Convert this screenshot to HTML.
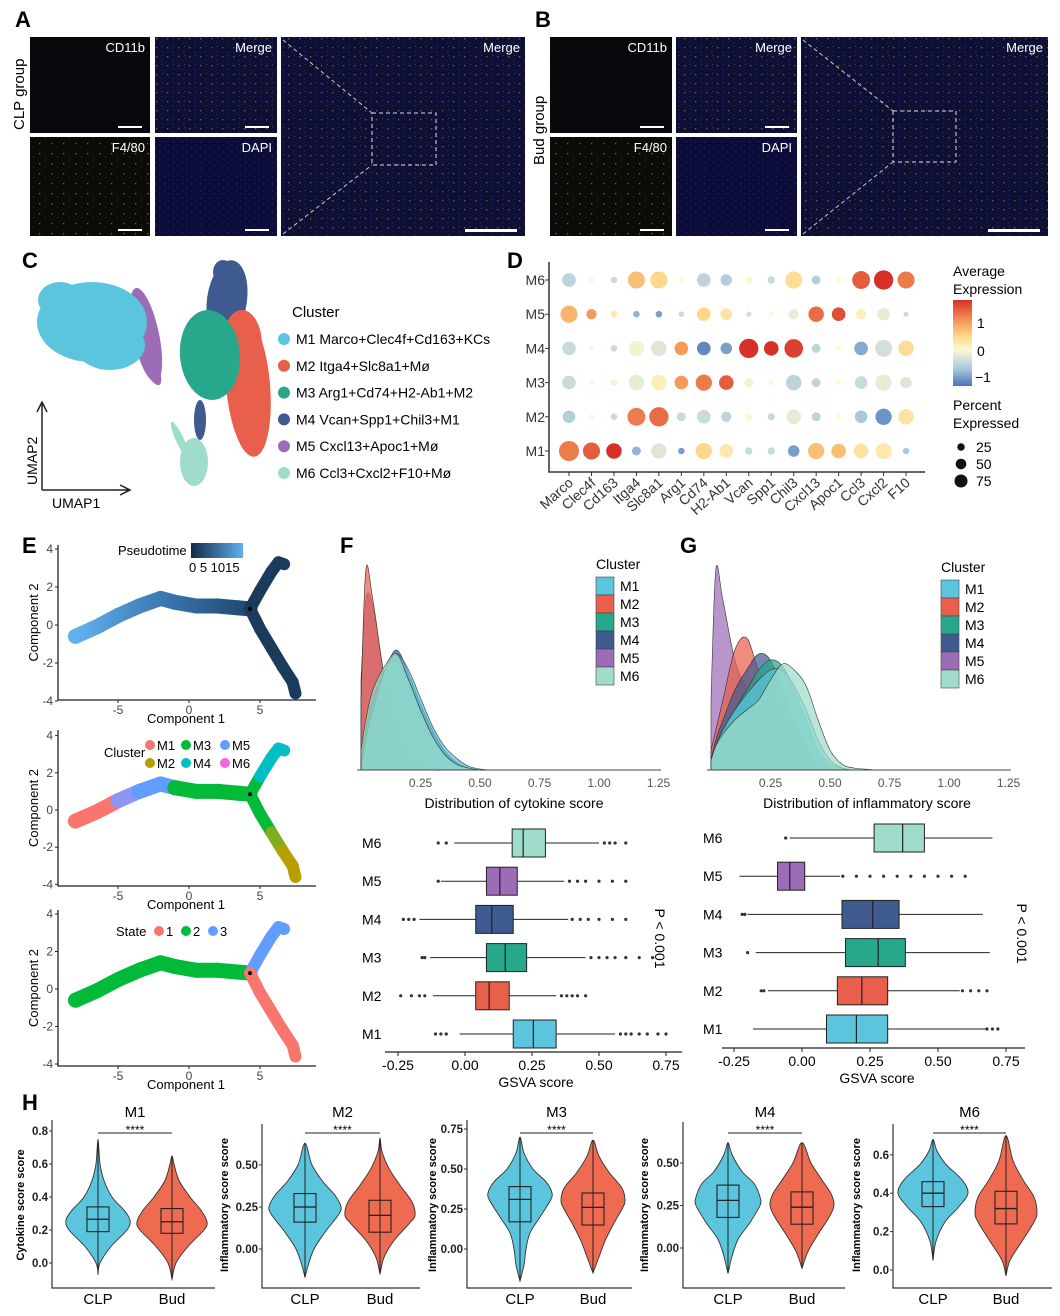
<!DOCTYPE html>
<html><head><meta charset="utf-8">
<style>
html,body{margin:0;padding:0;background:#fff;}
svg{display:block;font-family:"Liberation Sans",Arial,sans-serif;}
</style></head>
<body>
<svg id="fig" width="1060" height="1316" viewBox="0 0 1060 1316" xmlns="http://www.w3.org/2000/svg">
<defs>
<pattern id="pDapi" width="9" height="7" patternUnits="userSpaceOnUse"><rect width="9" height="7" fill="#0b0d38"/><rect x="2" y="1" width="1.5" height="1.5" fill="#182266"/><rect x="6" y="4" width="1.5" height="1.5" fill="#141c5c"/></pattern>
<pattern id="pMerge" width="11" height="9" patternUnits="userSpaceOnUse"><rect width="11" height="9" fill="#0d1034"/><rect x="2" y="2" width="1.3" height="1.3" fill="#6d6a34"/><rect x="7" y="6" width="1.3" height="1.3" fill="#1a2370"/><rect x="8" y="1" width="1" height="1" fill="#45452a"/></pattern>
<pattern id="pYel" width="12" height="10" patternUnits="userSpaceOnUse"><rect width="12" height="10" fill="#0b0b08"/><rect x="3" y="3" width="1.3" height="1.3" fill="#6d6a2c"/><rect x="9" y="7" width="1" height="1" fill="#3a3a1e"/></pattern>
<pattern id="pRed" width="14" height="12" patternUnits="userSpaceOnUse"><rect width="14" height="12" fill="#08080c"/><rect x="5" y="5" width="1" height="1" fill="#301010"/></pattern>
<linearGradient id="gPseudo" gradientUnits="userSpaceOnUse" x1="77" y1="0" x2="250" y2="0"><stop offset="0" stop-color="#62b0ec"/><stop offset="0.5" stop-color="#3a78b0"/><stop offset="1" stop-color="#1f4770"/></linearGradient>
<linearGradient id="gPseudoLeg" x1="0" y1="0" x2="1" y2="0"><stop offset="0" stop-color="#132b48"/><stop offset="1" stop-color="#5fb0ee"/></linearGradient>
<linearGradient id="gExpr" x1="0" y1="0" x2="0" y2="1"><stop offset="0" stop-color="#d73027"/><stop offset="0.25" stop-color="#f59a5a"/><stop offset="0.42" stop-color="#fdd88a"/><stop offset="0.58" stop-color="#fdf8d0"/><stop offset="0.8" stop-color="#a9c8e0"/><stop offset="1" stop-color="#4a74b4"/></linearGradient>
</defs>
</svg>
<script>
// ===== data arrays =====
const clusterNames=['M1','M2','M3','M4','M5','M6'];
const clusterColors=['#5bc5dd','#e8604c','#27a78c','#3f5a8e','#9d6cb6','#9fdccb'];
const geneNames=['Marco','Clec4f','Cd163','Itga4','Slc8a1','Arg1','Cd74','H2-Ab1','Vcan','Spp1','Chil3','Cxcl13','Apoc1','Ccl3','Cxcl2','F10'];
const exprM1=[1.3,1.5,1.8,-1,-0.3,-1.2,0.6,0.3,-0.5,-0.5,-1.2,0.8,0.8,0.4,0.3,-0.8];
const exprM2=[-0.7,0,-0.5,1.3,1.4,-0.5,-0.5,-0.6,0,-0.5,-0.2,-0.6,0,-0.8,-1.3,0.4];
const exprM3=[-0.5,0,-0.1,-0.2,0.2,1.1,1.3,1.5,-0.1,0,-0.6,-0.6,0,-0.5,-0.2,-0.3];
const exprM4=[-0.5,0,-0.5,-0.1,-0.3,1.1,-1.4,-1.2,1.9,1.8,1.7,-0.6,0,-1.1,-0.4,0.5];
const exprM5=[0.9,1.1,0.3,-1,-1.2,-0.5,0.6,0.4,-0.4,0,-0.2,1.4,1.6,0.2,-0.2,-0.5];
const exprM6=[-0.6,0,-0.5,0.8,0.6,0,-0.6,-0.7,0,-0.5,0.5,-0.7,0,1.5,1.8,1.3];
const pctM1=[75,55,45,15,45,8,50,35,10,10,25,50,40,40,50,8];
const pctM2=[30,5,8,60,70,15,35,20,10,10,40,15,5,30,50,45];
const pctM3=[35,5,8,45,45,35,50,40,15,5,45,15,5,30,50,25];
const pctM4=[35,5,8,45,45,35,35,25,70,40,65,15,5,35,55,45];
const pctM5=[55,20,8,8,8,6,35,25,5,3,20,45,35,20,30,5];
const pctM6=[35,5,8,55,55,5,35,25,10,10,55,15,5,60,70,55];

const trunkX=[-8,-6.5,-5,-3.5,-2,-1,0.5,2,3.5,4.3];
const trunkY=[-0.6,-0.1,0.5,1.0,1.4,1.2,1.0,1.0,0.9,0.85];
const upX=[4.3,5,5.8,6.3,6.7];
const upY=[0.85,1.8,2.8,3.3,3.2];
const lowX=[4.3,5,5.8,6.6,7.3,7.5];
const lowY=[0.85,-0.2,-1.2,-2.2,-3,-3.6];
const trunkCluster=['#f8766d','#f8766d','#8d96f2','#619cff','#619cff','#00ba38','#00ba38','#00ba38','#00ba38'];
const upCluster=['#00ba38','#00bfc4','#00bfc4','#00bfc4'];
const lowCluster=['#00ba38','#00ba38','#7fae1a','#b79f00','#b79f00'];
const xTicksE=[-5,0,5];
const yTicksE=[-4,-2,0,2,4];

const densXF=[0,0.02,0.05,0.1,0.15,0.2,0.25,0.3,0.35,0.4,0.45,0.5,0.55,0.6];
const densF_M1=[0.0,0.15,0.3,0.5,0.58,0.5,0.36,0.22,0.12,0.06,0.02,0.005,0,0];
const densF_M2=[0.35,1.0,0.85,0.45,0.2,0.08,0.03,0.01,0,0,0,0,0,0];
const densF_M3=[0.05,0.2,0.35,0.5,0.55,0.42,0.28,0.15,0.07,0.03,0.01,0,0,0];
const densF_M4=[0.05,0.2,0.35,0.5,0.6,0.48,0.33,0.2,0.1,0.04,0.01,0,0,0];
const densF_M5=[0.45,0.85,0.82,0.45,0.2,0.07,0.02,0,0,0,0,0,0,0];
const densF_M6=[0.1,0.25,0.4,0.52,0.58,0.45,0.3,0.17,0.08,0.03,0.01,0,0,0];
const densXG=[0,0.02,0.05,0.1,0.15,0.2,0.25,0.3,0.35,0.4,0.45,0.5,0.55,0.6,0.7];
const densG_M1=[0.05,0.12,0.2,0.3,0.38,0.45,0.5,0.5,0.42,0.3,0.15,0.05,0.01,0,0];
const densG_M2=[0.1,0.2,0.35,0.6,0.66,0.5,0.42,0.3,0.2,0.1,0.04,0.01,0,0,0];
const densG_M3=[0.05,0.12,0.2,0.3,0.4,0.5,0.55,0.52,0.4,0.25,0.1,0.03,0.01,0,0];
const densG_M4=[0.05,0.15,0.25,0.4,0.5,0.58,0.55,0.4,0.25,0.12,0.05,0.01,0,0,0];
const densG_M5=[0.35,1.0,0.85,0.55,0.4,0.25,0.14,0.07,0.03,0.01,0,0,0,0,0];
const densG_M6=[0.05,0.12,0.18,0.25,0.3,0.35,0.45,0.53,0.5,0.42,0.25,0.1,0.03,0.01,0];
const densTicks=[0.25,0.5,0.75,1.0,1.25];
const densTickLabels=['0.25','0.50','0.75','1.00','1.25'];

const boxF=[[-0.02,0.18,0.255,0.34,0.56],[-0.12,0.04,0.09,0.165,0.34],[-0.13,0.08,0.15,0.23,0.45],[-0.17,0.04,0.10,0.18,0.385],[-0.09,0.08,0.13,0.195,0.37],[-0.04,0.176,0.217,0.30,0.5]];
const outF=[[-0.11,-0.09,-0.07,0.58,0.6,0.62,0.65,0.68,0.72,0.75],[-0.24,-0.2,-0.17,-0.15,0.36,0.38,0.4,0.42,0.45],[-0.16,-0.15,0.47,0.5,0.53,0.56,0.6,0.65,0.7],[-0.23,-0.21,-0.19,0.4,0.43,0.46,0.5,0.55,0.6],[-0.1,0.39,0.42,0.45,0.5,0.55,0.6],[-0.1,-0.07,0.52,0.54,0.56,0.6]];
const boxG=[[-0.18,0.09,0.2,0.315,0.675],[-0.125,0.13,0.22,0.315,0.58],[-0.17,0.16,0.28,0.38,0.69],[-0.2,0.147,0.26,0.357,0.665],[-0.23,-0.09,-0.045,0.01,0.14],[-0.045,0.265,0.37,0.45,0.70]];
const outG=[[0.68,0.7,0.72],[-0.15,-0.14,0.59,0.62,0.65,0.68],[-0.2],[-0.22,-0.21],[0.15,0.2,0.25,0.3,0.35,0.4,0.45,0.5,0.55,0.6],[-0.06]];
const gsvaTicks=[-0.25,0,0.25,0.5,0.75];
const gsvaTickLabels=['-0.25','0.00','0.25','0.50','0.75'];

const violinCLP=[
 [[-0.07,0],[0,2],[0.1,13],[0.2,29],[0.26,32],[0.32,26],[0.4,14],[0.5,6],[0.6,2],[0.75,0]],
 [[-0.17,0],[-0.1,3],[0,9],[0.1,20],[0.2,33],[0.25,36],[0.32,30],[0.4,18],[0.5,7],[0.63,0]],
 [[-0.2,0],[-0.1,4],[0,6],[0.1,10],[0.2,20],[0.3,30],[0.35,32],[0.42,26],[0.5,13],[0.6,4],[0.7,0]],
 [[-0.15,0],[-0.05,4],[0.05,10],[0.15,22],[0.25,32],[0.3,32],[0.38,26],[0.45,14],[0.55,4],[0.62,0]],
 [[0.05,0],[0.15,3],[0.25,12],[0.33,26],[0.4,35],[0.47,29],[0.55,13],[0.62,4],[0.68,0]]];
const violinBud=[
 [[-0.1,0],[0,4],[0.1,16],[0.2,32],[0.25,35],[0.32,29],[0.4,18],[0.5,7],[0.6,2],[0.65,0]],
 [[-0.15,0],[-0.05,4],[0.05,14],[0.15,29],[0.2,35],[0.28,32],[0.38,20],[0.48,9],[0.58,2],[0.66,0]],
 [[-0.15,0],[-0.05,6],[0.05,12],[0.15,20],[0.25,29],[0.3,32],[0.38,29],[0.48,16],[0.58,6],[0.68,0]],
 [[-0.12,0],[-0.02,6],[0.08,16],[0.18,27],[0.25,32],[0.32,29],[0.4,20],[0.5,9],[0.62,0]],
 [[-0.03,0],[0.05,4],[0.15,16],[0.25,28],[0.3,31],[0.38,28],[0.47,17],[0.57,7],[0.7,0]]];
const boxCLP=[[0.19,0.265,0.34],[0.16,0.25,0.33],[0.17,0.31,0.39],[0.18,0.28,0.37],[0.33,0.40,0.46]];
const boxBud=[[0.18,0.25,0.33],[0.10,0.20,0.29],[0.15,0.26,0.35],[0.14,0.24,0.33],[0.24,0.32,0.41]];
const violinTitles=['M1','M2','M3','M4','M6'];
const violinYLabels=['Cytokine score score','Inflammatory score score','Inflammatory score score','Inflammatory score score','Inflammatory score score'];
const violinTicks=[[0,0.2,0.4,0.6,0.8],[0,0.25,0.5],[0,0.25,0.5,0.75],[0,0.25,0.5],[0,0.2,0.4,0.6]];
const violinTickLabels=[['0.0','0.2','0.4','0.6','0.8'],['0.00','0.25','0.50'],['0.00','0.25','0.50','0.75'],['0.00','0.25','0.50'],['0.0','0.2','0.4','0.6']];

// ===== helpers =====
const NS='http://www.w3.org/2000/svg';
const svg=document.getElementById('fig');
function mk(tag,attrs,parent){const e=document.createElementNS(NS,tag);for(const k in attrs)e.setAttribute(k,attrs[k]);(parent||svg).appendChild(e);return e;}
function txt(x,y,s,attrs,parent){const e=mk('text',Object.assign({x:x,y:y},attrs||{}),parent);e.textContent=s;return e;}
function grp(name,parent){const g=mk('g',{},parent);return g;}
function smooth(pts){let d='M'+pts[0][0]+','+pts[0][1];for(let i=0;i<pts.length-1;i++){const p0=pts[i-1]||pts[i],p1=pts[i],p2=pts[i+1],p3=pts[i+2]||p2;const c1=[p1[0]+(p2[0]-p0[0])/6,p1[1]+(p2[1]-p0[1])/6],c2=[p2[0]-(p3[0]-p1[0])/6,p2[1]-(p3[1]-p1[1])/6];d+=' C'+c1[0].toFixed(1)+','+c1[1].toFixed(1)+' '+c2[0].toFixed(1)+','+c2[1].toFixed(1)+' '+p2[0].toFixed(1)+','+p2[1].toFixed(1);}return d;}
function panelLabel(x,y,s){const t=txt(x,y,s,{'font-size':22,'font-weight':'bold'});}

// ===== Panels A/B =====
panelLabel(15,27,'A');panelLabel(535,27,'B');
const gMic=grp('microscopy-panels');
const micro=[[30,37,120,96,'CD11b','pRed'],[155,37,122,96,'Merge','pMerge'],[30,137,120,99,'F4/80','pYel'],[155,137,122,99,'DAPI','pDapi'],[281,37,244,199,'Merge','pMerge'],
 [550,37,122,96,'CD11b','pRed'],[676,37,121,96,'Merge','pMerge'],[550,137,122,99,'F4/80','pYel'],[676,137,121,99,'DAPI','pDapi'],[801,37,247,199,'Merge','pMerge']];
micro.forEach((m,i)=>{
 const r=mk('rect',{x:m[0],y:m[1],width:m[2],height:m[3],fill:'url(#'+m[5]+')'},gMic);
 
 
 const t=txt(m[0]+m[2]-5,m[1]+15,m[4],{'font-size':13,fill:'#fff','text-anchor':'end'},gMic);
 
 
 const big=m[2]>200;const bw=big?52:24;
 const sb=mk('rect',{x:m[0]+m[2]-bw-8,y:m[1]+m[3]-7,width:bw,height:big?3:2,fill:'#fff'},gMic);
 
 
});
[[281,372,113,436,165],[801,893,111,956,162]].forEach(z=>{
 const bx=mk('rect',{x:z[1],y:z[2],width:z[3]-z[1],height:z[4]-z[2],fill:'none',stroke:'#ddd','stroke-dasharray':'4,3','stroke-width':1},gMic);
 
 
 mk('line',{x1:z[0]+2,y1:40,x2:z[1],y2:z[2],stroke:'#ccc','stroke-dasharray':'4,3'},gMic);
 mk('line',{x1:z[0]+2,y1:234,x2:z[1],y2:z[4],stroke:'#ccc','stroke-dasharray':'4,3'},gMic);
});
const gl1=txt(24,130,'CLP group',{'font-size':15,transform:'rotate(-90 24 130)','text-anchor':'start'});

const gl2=txt(544,165,'Bud group',{'font-size':15,transform:'rotate(-90 544 165)'});


// ===== Panel C =====
panelLabel(22,268,'C');
const gU=grp('umap-plot');
function blob(cx,cy,rx,ry,c,rot){const e=mk('ellipse',{cx:cx,cy:cy,rx:rx,ry:ry,fill:c,transform:'rotate('+(rot||0)+' '+cx+' '+cy+')'},gU);}
blob(146,335,13,48,clusterColors[4],-12);
blob(150,365,7,22,clusterColors[4],-25);
blob(92,322,55,40,clusterColors[0]);
blob(60,300,22,18,clusterColors[0]);
blob(110,345,35,25,clusterColors[0]);
blob(227,300,20,40,clusterColors[3],8);
blob(223,272,10,12,clusterColors[3]);
blob(248,385,22,72,clusterColors[1],-5);
blob(242,345,20,35,clusterColors[1]);
blob(210,355,30,45,clusterColors[2],-5);
blob(200,420,6,20,clusterColors[3]);
blob(194,462,14,24,clusterColors[5]);
blob(180,440,4,20,clusterColors[5],-25);
mk('path',{d:'M42,490 L42,404 M37,412 L42,402 L47,412 M42,490 L128,490 M120,485 L130,490 L120,495',stroke:'#222','stroke-width':1.5,fill:'none'},gU);
const u2=txt(37,485,'UMAP2',{'font-size':14,transform:'rotate(-90 37 485)'},gU);
const u1=txt(52,508,'UMAP1',{'font-size':14},gU);
const gCL=grp('umap-legend');
txt(292,317,'Cluster',{'font-size':15},gCL);
const cLegTxt=['Marco+Clec4f+Cd163+KCs','Itga4+Slc8a1+Mø','Arg1+Cd74+H2-Ab1+M2','Vcan+Spp1+Chil3+M1','Cxcl13+Apoc1+Mø','Ccl3+Cxcl2+F10+Mø'];
cLegTxt.forEach((s,i)=>{const y=339+i*26.8;const c=mk('circle',{cx:284,cy:y,r:6,fill:clusterColors[i]},gCL);
 const t=txt(296,y+5,clusterNames[i]+'  '+s,{'font-size':14},gCL);});

// ===== Panel D =====
panelLabel(507,268,'D');
const gD=grp('dot-plot');
const dColX=i=>569+i*22.47, dRowY=r=>451-r*34.2;
mk('path',{d:'M549,262 L549,472 L925,472',stroke:'#333','stroke-width':1.5,fill:'none'},gD);
const exprRows=[exprM1,exprM2,exprM3,exprM4,exprM5,exprM6], pctRows=[pctM1,pctM2,pctM3,pctM4,pctM5,pctM6];
const cStops=[[-1.6,[74,116,180]],[-0.8,[169,200,224]],[0,[253,248,208]],[0.6,[253,216,138]],[1.1,[245,154,90]],[1.8,[215,48,39]]];
function exprColor(v){v=Math.max(-1.6,Math.min(1.8,v));for(let i=0;i<cStops.length-1;i++){const a=cStops[i],b=cStops[i+1];if(v<=b[0]){const t=(v-a[0])/(b[0]-a[0]);return 'rgb('+a[1].map((c,k)=>Math.round(c+(b[1][k]-c)*t)).join(',')+')';}}return 'rgb(215,48,39)';}
exprRows.forEach((row,r)=>{
 const lab=txt(545,dRowY(r)+5,clusterNames[r],{'font-size':14,'text-anchor':'end',fill:'#333'},gD);
 
 mk('line',{x1:545,y1:dRowY(r),x2:549,y2:dRowY(r),stroke:'#333'},gD);
 row.forEach((v,c)=>{const rad=Math.sqrt(pctRows[r][c]/75)*10;
  const dot=mk('circle',{cx:dColX(c),cy:dRowY(r),r:rad.toFixed(2),fill:exprColor(v)},gD);
  
  });
});
geneNames.forEach((g,c)=>{const x=dColX(c)+5;
 mk('line',{x1:dColX(c),y1:472,x2:dColX(c),y2:476,stroke:'#333'},gD);
 const t=txt(x,484,g,{'font-size':14,'text-anchor':'end',fill:'#333',transform:'rotate(-42 '+x+' 484)'},gD);
 });
const gDL=grp('dot-legend');
txt(953,276,'Average',{'font-size':14},gDL);txt(953,294,'Expression',{'font-size':14},gDL);
mk('rect',{x:953,y:300,width:19,height:86,fill:'url(#gExpr)'},gDL);
txt(977,328,'1',{'font-size':14},gDL);txt(977,356,'0',{'font-size':14},gDL);txt(975,382,'−1',{'font-size':14},gDL);
txt(953,410,'Percent',{'font-size':14},gDL);txt(953,428,'Expressed',{'font-size':14},gDL);
[[25,447],[50,464],[75,481]].forEach(p=>{mk('circle',{cx:961,cy:p[1],r:Math.sqrt(p[0]/75)*6.5,fill:'#111'},gDL);txt(976,p[1]+5,String(p[0]),{'font-size':14},gDL);});

// ===== Panel E =====
panelLabel(22,553,'E');
const ePlots=[{y0:625,ppu:19,top:545,bot:700},{y0:810,ppu:18.6,top:730,bot:886},{y0:989,ppu:18.75,top:910,bot:1066}];
const ex=v=>189+v*14.2;
ePlots.forEach((p,k)=>{
 const g=grp('trajectory-plot-'+(k+1));
 const ey=v=>p.y0-v*p.ppu;
 mk('path',{d:'M58,'+p.top+' L58,'+p.bot+' L316,'+p.bot,stroke:'#222','stroke-width':1.3,fill:'none'},g);
 xTicksE.forEach(v=>{mk('line',{x1:ex(v),y1:p.bot,x2:ex(v),y2:p.bot+3,stroke:'#222'},g);const t=txt(ex(v),p.bot+14,String(v),{'font-size':12,'text-anchor':'middle',fill:'#444'},g);});
 yTicksE.forEach(v=>{mk('line',{x1:55,y1:ey(v),x2:58,y2:ey(v),stroke:'#222'},g);const t=txt(53,ey(v)+4,String(v),{'font-size':12,'text-anchor':'end',fill:'#444'},g);});
 const xl=txt(186,p.bot+23,'Component 1',{'font-size':13,'text-anchor':'middle'},g);
 const yc=(p.top+p.bot)/2;
 const yl=txt(38,yc,'Component 2',{'font-size':13,'text-anchor':'middle',transform:'rotate(-90 38 '+yc+')'},g);
 const branches=[[trunkX,trunkY],[upX,upY],[lowX,lowY]];
 branches.forEach((b,bi)=>{
  for(let i=0;i<b[0].length-1;i++){
   let col;
   if(k===0) col=bi===0?'url(#gPseudo)':'#1c3a5c';
   else if(k===1) col=[trunkCluster,upCluster,lowCluster][bi][i];
   else col=['#00ba38','#619cff','#f8766d'][bi];
   const x1=ex(b[0][i]),y1=ey(b[1][i]),x2=ex(b[0][i+1]),y2=ey(b[1][i+1]);
   const s=mk('line',{x1:x1,y1:y1,x2:x2,y2:y2,stroke:col,'stroke-width':bi===0?15:12,'stroke-linecap':'round'},g);
   
   
  }
 });
 mk('circle',{cx:ex(4.3),cy:ey(0.85),r:2,fill:'#000'},g);
});
const gEL=grp('trajectory-legends');
txt(118,555,'Pseudotime',{'font-size':13},gEL);
mk('rect',{x:191,y:543,width:52,height:15,fill:'url(#gPseudoLeg)'},gEL);
txt(189,572,'0  5 1015',{'font-size':13},gEL);
txt(104,757,'Cluster',{'font-size':13},gEL);
[['M1','#f8766d',150,745],['M3','#00ba38',186,745],['M5','#619cff',225,745],['M2','#b79f00',150,763],['M4','#00bfc4',186,763],['M6','#f564e3',225,763]].forEach(l=>{
 const c=mk('circle',{cx:l[2],cy:l[3],r:5,fill:l[1]},gEL);
 txt(l[2]+7,l[3]+5,l[0],{'font-size':13},gEL);});
txt(116,936,'State',{'font-size':13},gEL);
[['1','#f8766d',159],['2','#00ba38',186],['3','#619cff',213]].forEach(l=>{mk('circle',{cx:l[2],cy:931,r:5,fill:l[1]},gEL);txt(l[2]+7,936,l[0],{'font-size':13},gEL);});

// ===== Panels F,G =====
panelLabel(340,553,'F');panelLabel(680,553,'G');
function densityPanel(name,x0,xs,dens,titleX,title,legX,legY){
 const g=grp(name);
 const px=v=>x0+v*238, py=v=>770-v*200;
 const order=[4,1,3,2,0,5];
 order.forEach(ci=>{
  const pts=xs.map((v,i)=>[px(v),py(dens[ci][i])]);
  const d=smooth(pts)+' L'+px(xs[xs.length-1])+',770 L'+px(0)+',770 Z';
  const a=mk('path',{d:d,fill:clusterColors[ci],'fill-opacity':0.72,stroke:'#333','stroke-width':0.6},g);
  
  
 });
 mk('line',{x1:x0-4,y1:770,x2:x0+300,y2:770,stroke:'#444','stroke-width':1},g);
 densTicks.forEach((v,i)=>{const t=txt(px(v),787,densTickLabels[i],{'font-size':12,'text-anchor':'middle',fill:'#555'},g);});
 const tt=txt(titleX,808,title,{'font-size':14,'text-anchor':'middle'},g);
 const lg=grp(name+'-legend',g);
 txt(legX,legY,'Cluster',{'font-size':14},lg);
 clusterNames.forEach((n,i)=>{const y=legY+8+i*18;const r=mk('rect',{x:legX,y:y,width:18,height:18,fill:clusterColors[i],stroke:'#444','stroke-width':0.6},lg);txt(legX+24,y+14,n,{'font-size':14},lg);});
}
densityPanel('cytokine-density',361,densXF,[densF_M1,densF_M2,densF_M3,densF_M4,densF_M5,densF_M6],514,'Distribution of cytokine score',596,569);
densityPanel('inflammatory-density',711,densXG,[densG_M1,densG_M2,densG_M3,densG_M4,densG_M5,densG_M6],867,'Distribution of inflammatory score',941,572);

// ===== Box plots =====
function boxPanel(name,z,ppu,rowY0,step,boxes,outs,labX,axY,axX1,axX2,titleX,pX){
 const g=grp(name);
 const px=v=>z+v*ppu;
 boxes.forEach((b,i)=>{
  const y=rowY0-i*step;
  const l=txt(labX,y+5,clusterNames[i],{'font-size':14},g);
  mk('line',{x1:px(b[0]),y1:y,x2:px(b[4]),y2:y,stroke:'#222','stroke-width':1},g);
  outs[i].forEach(v=>{const o=mk('circle',{cx:px(v),cy:y,r:1.6,fill:'#333'},g);});
  const r=mk('rect',{x:px(b[1]),y:y-14,width:px(b[3])-px(b[1]),height:28,fill:clusterColors[i],stroke:'#222','stroke-width':1},g);
  
  mk('line',{x1:px(b[2]),y1:y-14,x2:px(b[2]),y2:y+14,stroke:'#222','stroke-width':1.2},g);
 });
 mk('line',{x1:axX1,y1:axY,x2:axX2,y2:axY,stroke:'#222','stroke-width':1.2},g);
 gsvaTicks.forEach((v,i)=>{mk('line',{x1:px(v),y1:axY,x2:px(v),y2:axY+4,stroke:'#222'},g);const t=txt(px(v),axY+18,gsvaTickLabels[i],{'font-size':14,'text-anchor':'middle'},g);});
 const tt=txt(titleX,axY+35,'GSVA score',{'font-size':14,'text-anchor':'middle'},g);
 const p=txt(pX,rowY0-2.5*step,'P < 0.001',{'font-size':14,'text-anchor':'middle',transform:'rotate(90 '+pX+' '+(rowY0-2.5*step)+')'},g);
 
}
boxPanel('cytokine-boxplot',465,268,1034,38.2,boxF,outF,362,1052,385,682,536,655);
boxPanel('inflammatory-boxplot',802,272,1029,38.2,boxG,outG,703,1048,722,1025,877,1017);

// ===== Panel H =====
panelLabel(22,1110,'H');
const vPlots=[{ax:52,end:215,zy:1263,ppu:165,cx:[98,172],top:1124,yl:24},{ax:262,end:420,zy:1249,ppu:168,cx:[305,380],top:1128,yl:228},{ax:467,end:632,zy:1249,ppu:160,cx:[520,593],top:1124,yl:436},{ax:683,end:845,zy:1248,ppu:170,cx:[728,802],top:1126,yl:648},{ax:893,end:1052,zy:1270,ppu:192,cx:[933,1006],top:1128,yl:860}];
vPlots.forEach((p,k)=>{
 const g=grp('violin-plot-'+violinTitles[k].toLowerCase());
 const vy=v=>p.zy-v*p.ppu;
 [violinCLP[k],violinBud[k]].forEach((vd,gi)=>{
  const cx=p.cx[gi];
  const right=vd.map(d=>[cx+d[1],vy(d[0])]);
  const left=vd.slice().reverse().map(d=>[cx-d[1],vy(d[0])]);
  const pts=right.concat(left.slice(1));
  const v=mk('path',{d:smooth(pts)+' Z',fill:gi?'#ee6a50':'#5bc5dd',stroke:'#333','stroke-width':0.9},g);
  
  mk('line',{x1:cx,y1:vy(vd[0][0]),x2:cx,y2:vy(vd[vd.length-1][0]),stroke:'#222','stroke-width':1},g);
  const b=[boxCLP,boxBud][gi][k];
  const r=mk('rect',{x:cx-11,y:vy(b[2]),width:22,height:vy(b[0])-vy(b[2]),fill:'none',stroke:'#222','stroke-width':1.1},g);
  
  mk('line',{x1:cx-11,y1:vy(b[1]),x2:cx+11,y2:vy(b[1]),stroke:'#222','stroke-width':1.3},g);
  const xl=txt(cx,1304,gi?'Bud':'CLP',{'font-size':15,'text-anchor':'middle'},g);
 });
 mk('path',{d:'M'+p.ax+','+(p.top-4)+' L'+p.ax+',1288 L'+p.end+',1288',stroke:'#333','stroke-width':1.2,fill:'none'},g);
 violinTicks[k].forEach((v,i)=>{mk('line',{x1:p.ax-3,y1:vy(v),x2:p.ax,y2:vy(v),stroke:'#333'},g);const t=txt(p.ax-4,vy(v)+4,violinTickLabels[k][i],{'font-size':11.5,'font-weight':'bold','text-anchor':'end',fill:'#222'},g);});
 const t=txt((p.cx[0]+p.cx[1])/2,1117,violinTitles[k],{'font-size':15,'text-anchor':'middle'},g);
 mk('line',{x1:p.cx[0],y1:1133,x2:p.cx[1],y2:1133,stroke:'#222','stroke-width':1},g);
 const s=txt((p.cx[0]+p.cx[1])/2,1134,'****',{'font-size':12,'text-anchor':'middle'},g);
 const yc=1205;
 const yl=txt(p.yl,yc,violinYLabels[k],{'font-size':11,'font-weight':'bold','text-anchor':'middle',transform:'rotate(-90 '+p.yl+' '+yc+')'},g);
 
});
</script>
</body></html>
